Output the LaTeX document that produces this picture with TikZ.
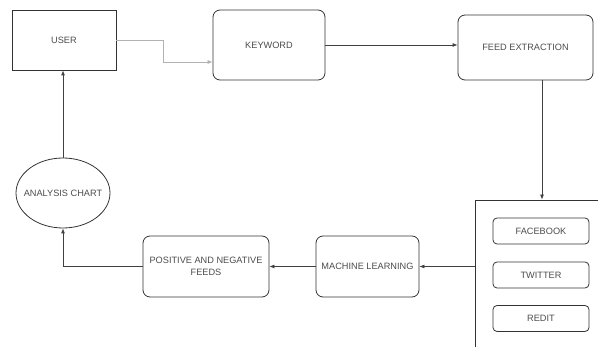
\documentclass[tikz,border=0pt]{standalone}
\usepackage{fontspec}
\setsansfont{Liberation Sans}
\usepackage{tikz}
\usetikzlibrary{arrows.meta,positioning,shapes.geometric}

\begin{document}
\begin{tikzpicture}[
  x=1pt, y=-1pt,
  font=\sffamily\fontsize{9.2}{12}\selectfont,
  every node/.style={text=black!70},
  box/.style={draw=black!80, line width=0.8pt, align=center, inner sep=2pt},
  rbox/.style={box, rounded corners=7pt},
  arr/.style={-{Latex[length=5pt,width=4pt]}, draw=black!75, line width=0.8pt}
]
  \useasboundingbox (0,0) rectangle (598,347);
  \clip (0,0) rectangle (598,347);

  \node[box, minimum width=104pt, minimum height=60pt] (user) at (64,40) {USER};
  \node[rbox, minimum width=112pt, minimum height=70pt] (key) at (269,45) {KEYWORD};
  \node[rbox, minimum width=135pt, minimum height=65pt] (feed) at (525.5,47.5) {FEED EXTRACTION};

  % social sources, box runs off the page
  \node[box, minimum width=134pt, minimum height=160pt] (src) at (542,280) {};
  \node[rbox, rounded corners=4pt, minimum width=96pt, minimum height=26pt] (fb) at (541,231) {FACEBOOK};
  \node[rbox, rounded corners=4pt, minimum width=96pt, minimum height=26pt] (tw) at (541,275) {TWITTER};
  \node[rbox, rounded corners=4pt, minimum width=96pt, minimum height=26pt] (rd) at (541,318.5) {REDIT};

  \node[rbox, minimum width=103pt, minimum height=61pt] (ml) at (367.5,266.5) {MACHINE LEARNING};
  \node[rbox, minimum width=126pt, minimum height=61pt] (pn) at (206,266.5) {POSITIVE AND NEGATIVE\\FEEDS};
  \node[ellipse, draw=black!80, line width=0.8pt, minimum width=94pt, minimum height=70pt, inner xsep=-6.5pt, inner ysep=1pt] (chart) at (63,193) {ANALYSIS CHART};

  \draw[arr, draw=black!30, line width=0.6pt] (user.east) -- ++(47,0) |- ([yshift=-17pt]key.west);
  \draw[arr] (key.east) -- (key.east -| feed.west);
  \draw[arr] (src.north |- feed.south) -- (src.north);
  \draw[arr] (src.west |- ml.east) -- (ml.east);
  \draw[arr] (ml.west) -- (pn.east);
  \draw[arr] (pn.west) -| (chart.south);
  \draw[arr] (chart.north) -- (chart.north |- user.south);
\end{tikzpicture}
\end{document}
